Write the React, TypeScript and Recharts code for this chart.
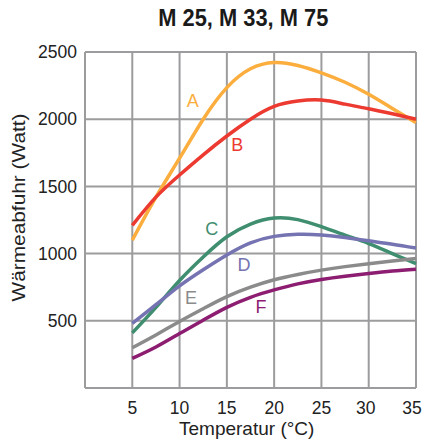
import React from "react";
import {
  LineChart,
  Line,
  XAxis,
  YAxis,
  CartesianGrid,
  ReferenceDot,
} from "recharts";

// temperature in °C
const temps = [5, 7.5, 10, 12.5, 15, 17.5, 20, 22.5, 25, 27.5, 30, 32.5, 35];

// heat dissipation in Watt
const curveA = [1100, 1420, 1710, 2000, 2235, 2375, 2422, 2400, 2345, 2275, 2185, 2080, 1975];
const curveB = [1210, 1420, 1585, 1735, 1875, 2000, 2095, 2135, 2142, 2112, 2078, 2040, 2000];
const curveC = [410, 600, 800, 975, 1125, 1220, 1265, 1253, 1200, 1137, 1075, 1000, 926];
const curveD = [480, 620, 760, 880, 990, 1080, 1128, 1144, 1139, 1120, 1095, 1070, 1041];
const curveE = [300, 395, 495, 590, 680, 750, 805, 845, 877, 903, 925, 945, 963];
const curveF = [220, 305, 405, 505, 600, 675, 730, 775, 808, 832, 852, 870, 884];

const xTicks = [5, 10, 15, 20, 25, 30, 35];
const yTicks = [500, 1000, 1500, 2000, 2500];

const series = [
  { key: "A", values: curveA, color: "#FBAE3E", lx: 11.4, ly: 2132 },
  { key: "B", values: curveB, color: "#EC3A31", lx: 16.1, ly: 1805 },
  { key: "C", values: curveC, color: "#3F8E70", lx: 13.4, ly: 1181 },
  { key: "D", values: curveD, color: "#7573B1", lx: 16.8, ly: 914 },
  { key: "E", values: curveE, color: "#8B8B8C", lx: 11.2, ly: 668 },
  { key: "F", values: curveF, color: "#8C1D70", lx: 18.6, ly: 602 },
];

const data = temps.map((t, i) => {
  const row: Record<string, number> = { t };
  series.forEach((s) => (row[s.key] = s.values[i]));
  return row;
});

const FONT = "'Liberation Sans', Arial, Helvetica, sans-serif";
const GRID = "#9C9C9E";
const INK = "#222";

function XTick(props: any) {
  const { x, y, payload } = props;
  // the last labels sit a bit inside the frame
  const shift = payload.value === 35 ? -4 : payload.value === 30 ? -3 : 0;
  return (
    <text x={x + shift} y={y + 18} textAnchor="middle" fontSize={17.5} fill={INK}>
      {payload.value}
    </text>
  );
}

export default function App() {
  return (
    <div
      style={{
        position: "fixed",
        left: 0,
        top: 0,
        width: 425,
        height: 444,
        background: "#fff",
        overflow: "hidden",
      }}
    >
      <svg width={425} height={40} style={{ position: "absolute", left: 0, top: 0 }}>
        <text
          x={243.3}
          y={26}
          textAnchor="middle"
          fontFamily={FONT}
          fontWeight={700}
          fontSize={24.5}
          textLength={170}
          lengthAdjust="spacingAndGlyphs"
          fill="#1a1a1a"
        >
          M 25, M 33, M 75
        </text>
      </svg>
      <LineChart
        width={425}
        height={444}
        data={data}
        margin={{ top: 52, right: 9, bottom: 0, left: 0 }}
        style={{ fontFamily: FONT }}
      >
        <CartesianGrid stroke={GRID} strokeWidth={2} />
        <XAxis
          dataKey="t"
          type="number"
          domain={[0, 35]}
          ticks={xTicks}
          height={56}
          tickLine={false}
          axisLine={{ stroke: GRID, strokeWidth: 2 }}
          tick={<XTick />}
          label={{
            content: () => (
              <text x={246.7} y={435} textAnchor="middle" fontSize={19} fill={INK}>
                Temperatur (°C)
              </text>
            ),
          }}
        />
        <YAxis
          type="number"
          domain={[0, 2500]}
          ticks={yTicks}
          width={85}
          tickLine={false}
          axisLine={{ stroke: GRID, strokeWidth: 2 }}
          tick={{ fontSize: 17.5, fill: INK }}
          label={{
            content: () => (
              <text
                transform="translate(24.5,207.5) rotate(-90)"
                textAnchor="middle"
                fontSize={19}
                textLength={188}
                lengthAdjust="spacingAndGlyphs"
                fill={INK}
              >
                Wärmeabfuhr (Watt)
              </text>
            ),
          }}
        />
        {series.map((s) => (
          <Line
            key={s.key}
            dataKey={s.key}
            type="natural"
            stroke={s.color}
            strokeWidth={3.5}
            dot={false}
            activeDot={false}
            isAnimationActive={false}
          />
        ))}
        {series.map((s) => (
          <ReferenceDot
            key={"lbl" + s.key}
            x={s.lx}
            y={s.ly}
            r={0}
            shape={(p: any) => (
              <text
                x={p.cx}
                y={p.cy}
                textAnchor="middle"
                dominantBaseline="central"
                fontSize={18}
                fill={s.color}
              >
                {s.key}
              </text>
            )}
          />
        ))}
      </LineChart>
    </div>
  );
}
